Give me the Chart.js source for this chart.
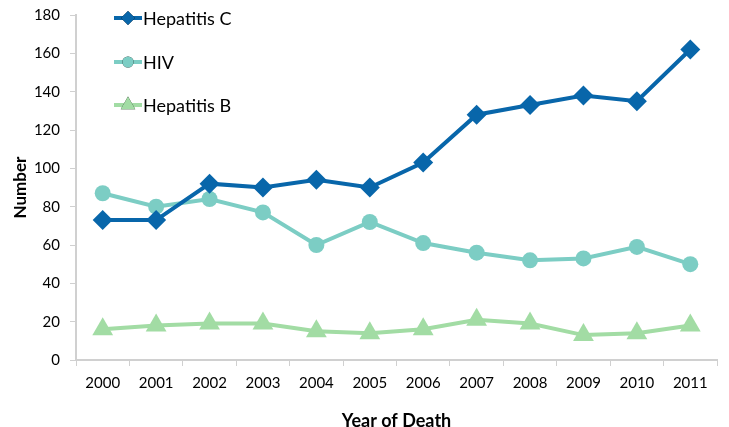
<!DOCTYPE html>
<html>
<head>
<meta charset="utf-8">
<script src="https://cdn.jsdelivr.net/npm/chart.js@4"></script>
<style>
  html, body { margin: 0; padding: 0; background: #fff; }
  #wrap { width: 729px; height: 427px; position: relative; }
</style>
</head>
<body>
<div id="wrap"><canvas id="chart"></canvas></div>
<script>
const years = ['2000', '2001', '2002', '2003', '2004', '2005', '2006', '2007', '2008', '2009', '2010', '2011'];
const hepatitisC = [73, 73, 92, 90, 94, 90, 103, 128, 133, 138, 135, 162];
const hiv = [87, 80, 84, 77, 60, 72, 61, 56, 52, 53, 59, 50];
const hepatitisB = [16, 18, 19, 19, 15, 14, 16, 21, 19, 13, 14, 18];

const FONT = 'Lato, "Open Sans", sans-serif';
const AXIS_GREY = '#d0d0d0';

// legend drawn inside the plot, top-left, line + marker like the original
const insideLegend = {
  id: 'insideLegend',
  afterDraw(chart) {
    const ctx = chart.ctx;
    const area = chart.chartArea;
    const x0 = area.left + 38;
    const rows = [18, 62, 105];
    ctx.save();
    chart.data.datasets.forEach((ds, i) => {
      const y = rows[i];
      ctx.strokeStyle = ds.borderColor;
      ctx.lineWidth = 4;
      ctx.beginPath();
      ctx.moveTo(x0, y);
      ctx.lineTo(x0 + 28, y);
      ctx.stroke();
      Chart.helpers.drawPoint(ctx, {
        pointStyle: ds.pointStyle,
        radius: ds.pointRadius * 0.7,
        rotation: 0,
        borderWidth: 0,
      }, x0 + 14, y);
      ctx.fillStyle = ds.borderColor;
      ctx.fill();
      ctx.fillStyle = '#000';
      ctx.font = '18px ' + FONT;
      ctx.textBaseline = 'middle';
      ctx.fillText(ds.label, x0 + 29, y + 1);
    });
    ctx.restore();
  },
};

new Chart(document.getElementById('chart'), {
  type: 'line',
  data: {
    labels: years,
    datasets: [
      {
        label: 'Hepatitis C',
        data: hepatitisC,
        borderColor: '#0866aa',
        backgroundColor: '#0866aa',
        borderWidth: 4,
        pointStyle: 'rectRot',
        pointRadius: 10,
        pointBorderWidth: 0,
        tension: 0,
      },
      {
        label: 'HIV',
        data: hiv,
        borderColor: '#7ccdc4',
        backgroundColor: '#7ccdc4',
        borderWidth: 4,
        pointStyle: 'circle',
        pointRadius: 8,
        pointBorderWidth: 0,
        tension: 0,
      },
      {
        label: 'Hepatitis B',
        data: hepatitisB,
        borderColor: '#a2dca4',
        backgroundColor: '#a2dca4',
        borderWidth: 4,
        pointStyle: 'triangle',
        pointRadius: 12,
        pointBorderWidth: 0,
        tension: 0,
      },
    ],
  },
  options: {
    responsive: true,
    maintainAspectRatio: false,
    animation: false,
    layout: {
      padding: { top: 15, right: 11, left: 0, bottom: 0 },
    },
    plugins: {
      legend: { display: false },
      tooltip: { enabled: false },
    },
    scales: {
      x: {
        offset: true,
        grid: {
          offset: true,
          drawOnChartArea: false,
          tickLength: 6,
          tickColor: AXIS_GREY,
          tickWidth: 1,
        },
        border: { color: AXIS_GREY, width: 2 },
        ticks: {
          color: '#000',
          font: { family: FONT, size: 15 },
          padding: 8,
          maxRotation: 0,
        },
        title: {
          display: true,
          text: 'Year of Death',
          color: '#000',
          font: { family: FONT, size: 18, weight: 'bold' },
          padding: { top: 16, bottom: -5 },
        },
        afterFit: (scale) => {
          scale.height = 67;
          scale.paddingLeft = 0;
          scale.paddingRight = 0;
        },
      },
      y: {
        min: 0,
        max: 180,
        ticks: {
          stepSize: 20,
          color: '#000',
          font: { family: FONT, size: 15 },
          padding: 10,
        },
        grid: {
          drawOnChartArea: false,
          tickLength: 6,
          tickColor: AXIS_GREY,
          tickWidth: 1,
        },
        border: { color: AXIS_GREY, width: 2 },
        title: {
          display: true,
          text: 'Number',
          color: '#000',
          font: { family: FONT, size: 17, weight: 'bold' },
          padding: { top: 10, bottom: 0 },
        },
        afterFit: (scale) => {
          scale.width = 76;
          scale.paddingTop = 0;
          scale.paddingBottom = 0;
        },
      },
    },
  },
  plugins: [insideLegend],
});
</script>
</body>
</html>
